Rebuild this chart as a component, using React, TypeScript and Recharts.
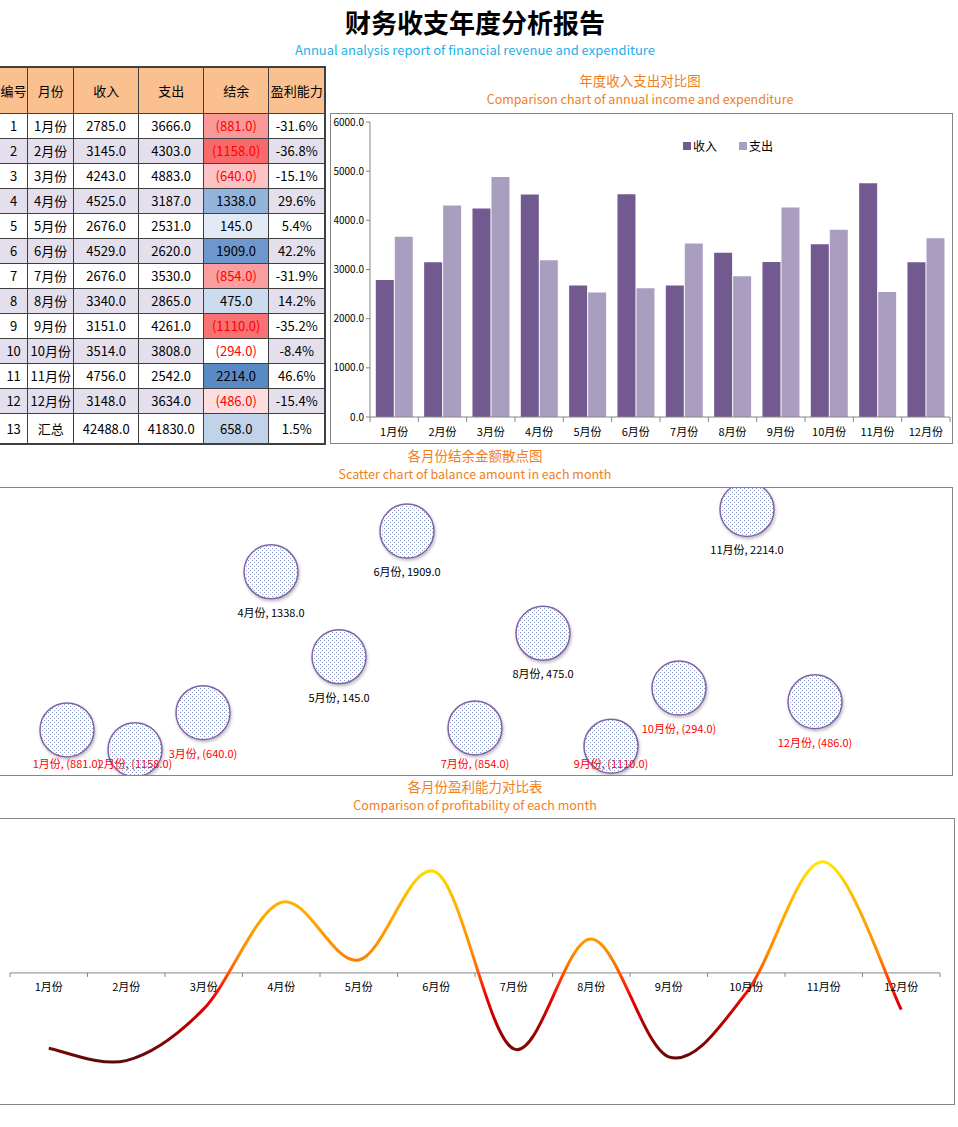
import React from "react";
import {
  BarChart,
  Bar,
  XAxis,
  YAxis,
  ScatterChart,
  Scatter,
  LabelList,
  LineChart,
  Line,
  ReferenceLine,
} from "recharts";

const months = ["1月份", "2月份", "3月份", "4月份", "5月份", "6月份", "7月份", "8月份", "9月份", "10月份", "11月份", "12月份"];
const income = [2785, 3145, 4243, 4525, 2676, 4529, 2676, 3340, 3151, 3514, 4756, 3148];
const expense = [3666, 4303, 4883, 3187, 2531, 2620, 3530, 2865, 4261, 3808, 2542, 3634];
const balance = [-881, -1158, -640, 1338, 145, 1909, -854, 475, -1110, -294, 2214, -486];
const profit = [-31.6, -36.8, -15.1, 29.6, 5.4, 42.2, -31.9, 14.2, -35.2, -8.4, 46.6, -15.4];
const totalLabel = "汇总";
const totalIncome = 42488;
const totalExpense = 41830;
const totalBalance = 658;
const totalProfit = 1.5;
const headers = ["编号", "月份", "收入", "支出", "结余", "盈利能力"];
const seriesNames = ["收入", "支出"];
const yTicks = [0, 1000, 2000, 3000, 4000, 5000, 6000];

const FONT = '"Noto Sans CJK SC", "Noto Sans", sans-serif';
const ORANGE = "#F0801E";
const AXIS = "#868686";
const seriesColors = ["#725A91", "#AA9EC0"];

const barData = months.map((m, i) => ({ month: m, [seriesNames[0]]: income[i], [seriesNames[1]]: expense[i] }));
const scatterData = months.map((m, i) => ({ idx: i + 1, month: m, balance: balance[i] }));
const lineData = months.map((m, i) => ({ month: m, profit: profit[i] }));

const fmtBal = (v: number) => (v < 0 ? `(${(-v).toFixed(1)})` : v.toFixed(1));

// 3-colour scale like Excel conditional formatting (red - white - blue around median)
const allBal = [...balance, totalBalance].sort((a, b) => a - b);
const midB = allBal[Math.floor(allBal.length / 2)];
const minB = allBal[0];
const maxB = allBal[allBal.length - 1];
const mix = (c: number[], t: number) =>
  `rgb(${c.map((ch) => Math.round(255 + (ch - 255) * t)).join(",")})`;
const balColor = (v: number) =>
  v <= midB ? mix([248, 105, 107], (midB - v) / (midB - minB)) : mix([90, 138, 198], (v - midB) / (maxB - midB));

// Excel-like smoothed line (Catmull-Rom)
function smoothCurve(context: any) {
  let pts: number[][] = [];
  return {
    areaStart() {},
    areaEnd() {},
    lineStart() {
      pts = [];
    },
    point(x: number, y: number) {
      pts.push([+x, +y]);
    },
    lineEnd() {
      if (!pts.length) return;
      context.moveTo(pts[0][0], pts[0][1]);
      for (let i = 0; i < pts.length - 1; i++) {
        const p0 = pts[i - 1] || pts[i];
        const p1 = pts[i];
        const p2 = pts[i + 1];
        const p3 = pts[i + 2] || p2;
        context.bezierCurveTo(
          p1[0] + (p2[0] - p0[0]) / 6,
          p1[1] + (p2[1] - p0[1]) / 6,
          p2[0] - (p3[0] - p1[0]) / 6,
          p2[1] - (p3[1] - p1[1]) / 6,
          p2[0],
          p2[1]
        );
      }
    },
  };
}

const BAR_BAND = 580 / 12;
const BarTick = (props: any) => {
  const { x, y, payload, index } = props;
  return (
    <g>
      <line x1={x - BAR_BAND / 2} y1={y} x2={x - BAR_BAND / 2} y2={y + 5} stroke={AXIS} />
      {index === months.length - 1 && (
        <line x1={x + BAR_BAND / 2} y1={y} x2={x + BAR_BAND / 2} y2={y + 5} stroke={AXIS} />
      )}
      <text x={x} y={y + 19} textAnchor="middle" fontSize={11} fill="#000">
        {payload.value}
      </text>
    </g>
  );
};

const PROFIT_MIN = -55;
const PROFIT_MAX = 65;
const LINE_PLOT_H = 286;
const LINE_BAND = 930 / 12;
const zeroShift = (LINE_PLOT_H * (0 - PROFIT_MIN)) / (PROFIT_MAX - PROFIT_MIN);
const LineTick = (props: any) => {
  const { x, y, payload, index } = props;
  const y0 = y - zeroShift;
  return (
    <g>
      <line x1={x - LINE_BAND / 2} y1={y0} x2={x - LINE_BAND / 2} y2={y0 + 4} stroke={AXIS} />
      {index === months.length - 1 && (
        <line x1={x + LINE_BAND / 2} y1={y0} x2={x + LINE_BAND / 2} y2={y0 + 4} stroke={AXIS} />
      )}
      <text x={x} y={y0 + 18} textAnchor="middle" fontSize={11} fill="#000">
        {payload.value}
      </text>
    </g>
  );
};

const Bubble = (props: any) => (
  <circle
    cx={props.cx}
    cy={props.cy}
    r={27}
    fill="url(#dots)"
    stroke="#8064A2"
    strokeWidth={1.5}
    filter="url(#bubbleShadow)"
  />
);

const SCATTER_PLOT_BOTTOM = 287;
const BubbleLabel = (props: any) => {
  const { x, y, width, height, value, index } = props;
  const cy = y + height / 2;
  const cx = x + width / 2;
  const ty = Math.min(cy + 45, SCATTER_PLOT_BOTTOM - 6);
  return (
    <text x={cx} y={ty} textAnchor="middle" fontSize={11} fill={value < 0 ? "#FF0000" : "#000"}>
      {`${months[index]}, ${fmtBal(value)}`}
    </text>
  );
};

const Title = ({ text, left, width, top, size, color, bold }: any) => (
  <div
    style={{
      position: "absolute",
      left,
      width,
      top,
      height: size + 4,
      lineHeight: `${size + 4}px`,
      fontSize: size,
      color,
      fontWeight: bold ? 700 : 400,
      textAlign: "center",
      whiteSpace: "nowrap",
    }}
  >
    {text}
  </div>
);

const colW = [28.7, 46, 65, 65, 65, 56.6];

const DataTable = () => {
  const cell = (extra: React.CSSProperties = {}): React.CSSProperties => ({
    border: "1px solid #3F3F3F",
    padding: 0,
    textAlign: "center",
    fontSize: 13,
    whiteSpace: "nowrap",
    overflow: "hidden",
    ...extra,
  });
  const rows = months.map((m, i) => ({
    no: String(i + 1),
    month: m,
    inc: income[i],
    exp: expense[i],
    bal: balance[i],
    pro: profit[i],
  }));
  rows.push({ no: "13", month: totalLabel, inc: totalIncome, exp: totalExpense, bal: totalBalance, pro: totalProfit });
  return (
    <table
      style={{
        position: "absolute",
        left: -2,
        top: 66,
        borderCollapse: "collapse",
        tableLayout: "fixed",
        width: colW.reduce((a, b) => a + b, 0),
        border: "2px solid #3F3F3F",
        fontFamily: FONT,
      }}
    >
      <colgroup>
        {colW.map((w, i) => (
          <col key={i} style={{ width: w }} />
        ))}
      </colgroup>
      <tbody>
        <tr style={{ height: 46, background: "#FAC090" }}>
          {headers.map((h) => (
            <td key={h} style={cell()}>
              {h}
            </td>
          ))}
        </tr>
        {rows.map((r, i) => {
          const bg = i < 12 && i % 2 === 1 ? "#E4DFEC" : "#FFFFFF";
          return (
            <tr key={r.no} style={{ height: i === 12 ? 30.5 : 25, background: bg }}>
              <td style={cell()}>{r.no}</td>
              <td style={cell()}>{r.month}</td>
              <td style={cell()}>{r.inc.toFixed(1)}</td>
              <td style={cell()}>{r.exp.toFixed(1)}</td>
              <td style={cell({ background: balColor(r.bal), color: r.bal < 0 ? "#FF0000" : "#000" })}>
                {fmtBal(r.bal)}
              </td>
              <td style={cell()}>{r.pro.toFixed(1)}%</td>
            </tr>
          );
        })}
      </tbody>
    </table>
  );
};

const BarLegend = () => (
  <div
    style={{
      position: "absolute",
      left: 352,
      top: 24,
      display: "flex",
      fontSize: 12,
      lineHeight: "16px",
      color: "#000",
    }}
  >
    {seriesNames.map((n, i) => (
      <div key={n} style={{ display: "flex", alignItems: "center", marginRight: i === 0 ? 22 : 0 }}>
        <span style={{ display: "inline-block", width: 8, height: 8, background: seriesColors[i], marginRight: 2 }} />
        <span>{n}</span>
      </div>
    ))}
  </div>
);

export default function App() {
  return (
    <div
      style={{
        position: "absolute",
        left: 0,
        top: 0,
        width: 958,
        height: 1127,
        overflow: "hidden",
        background: "#fff",
        fontFamily: FONT,
      }}
    >
      <Title text="财务收支年度分析报告" left={0} width={950} top={7} size={26} color="#000" bold />
      <Title
        text="Annual analysis report of financial revenue and expenditure"
        left={0}
        width={950}
        top={41}
        size={13}
        color="#1FAFEA"
      />

      <DataTable />

      <Title text="年度收入支出对比图" left={330} width={620} top={72} size={13.5} color={ORANGE} />
      <Title
        text="Comparison chart of annual income and expenditure"
        left={330}
        width={620}
        top={91}
        size={12.5}
        color={ORANGE}
      />
      <div
        style={{
          position: "absolute",
          left: 330,
          top: 113,
          width: 623,
          height: 331,
          border: `1px solid ${AXIS}`,
          boxSizing: "border-box",
        }}
      >
        <div style={{ position: "absolute", left: -1, top: -1 }}>
          <BarChart
            width={623}
            height={331}
            data={barData}
            margin={{ top: 9, right: 3, left: 0, bottom: 0 }}
            barCategoryGap="12%"
            barGap={1}
          >
            <XAxis
              dataKey="month"
              height={27}
              interval={0}
              tickLine={false}
              tickSize={0}
              tickMargin={0}
              axisLine={{ stroke: AXIS }}
              tick={<BarTick />}
            />
            <YAxis
              width={40}
              domain={[0, 6000]}
              ticks={yTicks}
              interval={0}
              tickFormatter={(v: number) => v.toFixed(1)}
              tick={{ fontSize: 10, fill: "#000" }}
              tickSize={4}
              tickMargin={2}
              tickLine={{ stroke: AXIS }}
              axisLine={{ stroke: AXIS }}
            />
            {seriesNames.map((n, i) => (
              <Bar key={n} dataKey={n} fill={seriesColors[i]} isAnimationActive={false} />
            ))}
          </BarChart>
        </div>
        <BarLegend />
      </div>

      <Title text="各月份结余金额散点图" left={0} width={950} top={447} size={13.5} color={ORANGE} />
      <Title
        text="Scatter chart of balance amount in each month"
        left={0}
        width={950}
        top={466}
        size={12.5}
        color={ORANGE}
      />
      <div
        style={{
          position: "absolute",
          left: -1,
          top: 487,
          width: 954,
          height: 289,
          border: `1px solid ${AXIS}`,
          boxSizing: "border-box",
          overflow: "hidden",
        }}
      >
        <div style={{ position: "absolute", left: -1, top: -1 }}>
          <ScatterChart width={954} height={289} margin={{ top: 2, right: 2, bottom: 2, left: 0 }}>
            <defs>
              <pattern id="dots" width={4} height={4} patternUnits="userSpaceOnUse">
                <rect width={4} height={4} fill="#fff" />
                <rect x={1} y={1} width={1} height={1} fill="#8797C8" />
                <rect x={3} y={3} width={1} height={1} fill="#8797C8" />
              </pattern>
              <filter id="bubbleShadow" x="-20%" y="-20%" width="150%" height="150%">
                <feDropShadow dx={1} dy={2} stdDeviation={1.5} floodColor="#000" floodOpacity={0.25} />
              </filter>
            </defs>
            <XAxis type="number" dataKey="idx" domain={[0, 14]} hide />
            <YAxis type="number" dataKey="balance" domain={[-1500, 2500]} hide />
            <Scatter data={scatterData} shape={<Bubble />} isAnimationActive={false}>
              <LabelList dataKey="balance" content={<BubbleLabel />} />
            </Scatter>
          </ScatterChart>
        </div>
      </div>

      <Title text="各月份盈利能力对比表" left={0} width={950} top={778} size={13.5} color={ORANGE} />
      <Title
        text="Comparison of profitability of each month"
        left={0}
        width={950}
        top={797}
        size={12.5}
        color={ORANGE}
      />
      <div
        style={{
          position: "absolute",
          left: -1,
          top: 818,
          width: 956,
          height: 287,
          border: `1px solid ${AXIS}`,
          boxSizing: "border-box",
        }}
      >
        <div style={{ position: "absolute", left: -1, top: -1 }}>
          <LineChart width={956} height={307} data={lineData} margin={{ top: 0, right: 15, bottom: 1, left: 11 }}>
            <defs>
              <linearGradient id="profitGrad" x1="0" y1="0" x2="0" y2="1">
                <stop offset="0%" stopColor="#FFE800" />
                <stop offset="20%" stopColor="#FFB300" />
                <stop offset="45%" stopColor="#FF8C00" />
                <stop offset="52%" stopColor="#FF7000" />
                <stop offset="60%" stopColor="#FF3000" />
                <stop offset="68%" stopColor="#F00000" />
                <stop offset="85%" stopColor="#A00000" />
                <stop offset="100%" stopColor="#5A0A0A" />
              </linearGradient>
            </defs>
            <XAxis
              dataKey="month"
              height={20}
              interval={0}
              padding={{ left: LINE_BAND / 2, right: LINE_BAND / 2 }}
              axisLine={false}
              tickLine={false}
              tickSize={0}
              tickMargin={0}
              tick={<LineTick />}
            />
            <YAxis hide domain={[PROFIT_MIN, PROFIT_MAX]} />
            <ReferenceLine y={0} stroke={AXIS} />
            <Line
              dataKey="profit"
              type={smoothCurve as any}
              stroke="url(#profitGrad)"
              strokeWidth={3}
              dot={false}
              activeDot={false}
              isAnimationActive={false}
            />
          </LineChart>
        </div>
      </div>
    </div>
  );
}
